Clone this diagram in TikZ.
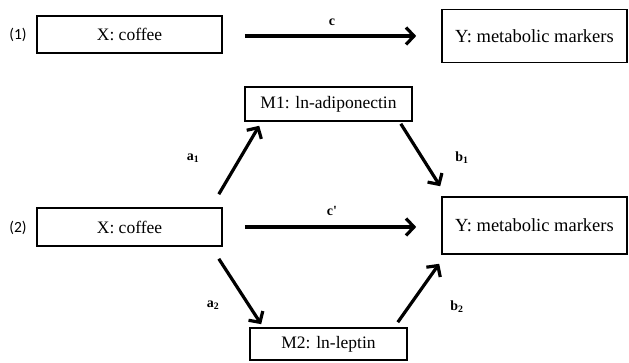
\documentclass[tikz,border=0pt]{standalone}
\usepackage{fontspec}
\setmainfont{Liberation Serif}
\newfontfamily\tagfont{Carlito}
\usepackage{tikz}
\usetikzlibrary{arrows.meta, positioning, calc}

\begin{document}
\begin{tikzpicture}[
  x=1pt, y=1pt,
  >={Straight Barb[length=8pt, width=17pt, line width=3.2pt]},
  var/.style={
    draw, line width=1.6pt, inner sep=0pt,
    font=\fontsize{17.5}{20}\selectfont
  },
  outcome/.style={var, font=\fontsize{18.5}{21}\selectfont},
  path/.style={->, line width=3.2pt},
  coef/.style={font=\fontsize{14}{16}\selectfont\bfseries},
  tag/.style={font=\tagfont\fontsize{15.5}{17}\selectfont},
]
\useasboundingbox (0,0) rectangle (629,363);

%%% Model (1): total effect
\node[var, minimum width=185pt, minimum height=37pt] (X1) at (129.5,328.5)
  {X: coffee};
\node[outcome, minimum width=185pt, minimum height=53pt] (Y1) at (534.5,327)
  {Y: metabolic markers};
\node[tag] (T1) at (18,328) {(1)};
\draw[path, shorten <=22pt, shorten >=25pt] (X1.east |- Y1) -- (Y1.west)
  node[midway, above=5pt, coef] (c) {c};

%%% Model (2): mediation through M1 and M2
\node[var, minimum width=185pt, minimum height=38pt] (X2) at (129.5,136)
  {X: coffee};
\node[outcome, minimum width=185pt, minimum height=57pt] (Y2) at (534.5,137.5)
  {Y: metabolic markers};
\node[var, minimum width=167pt, minimum height=34pt] (M1) at (328.5,259)
  {M1: ln-adiponectin};
\node[var, minimum width=157pt, minimum height=32pt] (M2) at (328.5,19)
  {M2: ln-leptin};
\node[tag] (T2) at (18,135) {(2)};

%%% direct effect
\draw[path, shorten <=22pt, shorten >=25pt] (X2.east) -- (X2.east -| Y2.west)
  node[midway, above=6pt, coef] (cp) {c\textquotesingle};

%%% indirect paths
\draw[path] ([xshift=-4pt, yshift=13pt]X2.north east)
  -- ([xshift=15pt, yshift=-4pt]M1.south west);
\draw[path] ([xshift=-12pt, yshift=-2pt]M1.south east)
  -- ([xshift=-1pt, yshift=10pt]Y2.north west);
\draw[path] ([xshift=-4pt, yshift=-12pt]X2.south east)
  -- ([xshift=12pt, yshift=3pt]M2.north west);
\draw[path] ([xshift=-10pt, yshift=5pt]M2.north east)
  -- ([xshift=-2pt, yshift=-9pt]Y2.south west);

%%% path coefficients
\node[coef] (a1) at (193,205) {a$_\mathbf{1}$};
\node[coef] (b1) at (462,205) {b$_\mathbf{1}$};
\node[coef] (a2) at (213,58) {a$_\mathbf{2}$};
\node[coef] (b2) at (457,56) {b$_\mathbf{2}$};

\end{tikzpicture}
\end{document}
